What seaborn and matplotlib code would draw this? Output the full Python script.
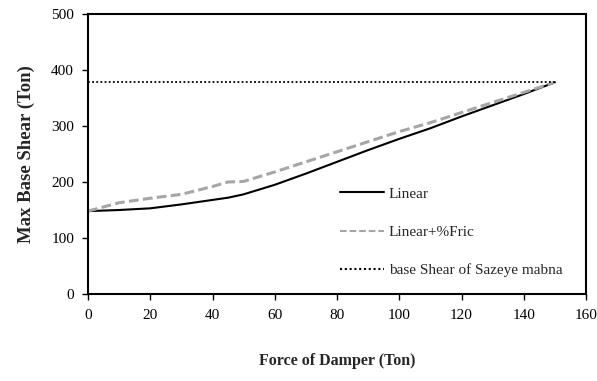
import numpy as np
import pandas as pd
import matplotlib
matplotlib.use('Agg')
import matplotlib.pyplot as plt
import seaborn as sns

# --- data ---
force = [0, 10, 20, 30, 40, 45, 50, 60, 70, 80, 90, 100, 110, 120, 130, 140, 150]
shear_linear = [148, 150, 153, 160, 168, 172, 178, 195, 215, 236, 257, 277, 296, 317, 337, 357, 378]
shear_fric = [148, 163, 171, 178, 192, 200, 201, 218, 236, 254, 272, 290, 306, 324, 342, 360, 378]
sazeye_force = [0, 150]
sazeye_shear = [378, 378]

labels = ['Linear', 'Linear+%Fric', 'base Shear of Sazeye mabna']

df = pd.concat([
    pd.DataFrame({'Force': force, 'Shear': shear_linear, 'Series': labels[0]}),
    pd.DataFrame({'Force': force, 'Shear': shear_fric, 'Series': labels[1]}),
    pd.DataFrame({'Force': sazeye_force, 'Shear': sazeye_shear, 'Series': labels[2]}),
], ignore_index=True)

sns.set_style("white")
plt.rcParams['font.family'] = ['Liberation Serif', 'DejaVu Serif']

fig = plt.figure(figsize=(5.97, 3.81), dpi=100)
ax = fig.add_axes([0.1474, 0.2283, 0.8342, 0.735])

sns.lineplot(data=df, x='Force', y='Shear', hue='Series', style='Series',
             palette={labels[0]: 'black', labels[1]: '#a6a6a6', labels[2]: 'black'},
             dashes={labels[0]: '', labels[1]: (3.2, 1.4), labels[2]: (1, 1.3)},
             linewidth=1.5, ax=ax, legend=True)

# thicker grey dashes, thinner dots as in the original
ax.lines[1].set_linewidth(2.2)
ax.lines[2].set_linewidth(1.3)

ax.set_xlim(0, 160)
ax.set_ylim(0, 500)
ax.set_xticks(np.arange(0, 161, 20))
ax.set_yticks(np.arange(0, 501, 100))
ax.tick_params(axis='both', direction='out', length=4, width=1, labelsize=11,
               bottom=True, left=True, colors='black')
ax.tick_params(axis='x', pad=7)
ax.tick_params(axis='y', pad=6)

for s in ax.spines.values():
    s.set_color('black')
    s.set_linewidth(1.5)

ax.set_xlabel('Force of Damper (Ton)', fontsize=11.5, fontweight='bold', labelpad=22)
ax.set_ylabel('Max Base Shear (Ton)', fontsize=13.5, fontweight='bold', labelpad=12)

handles, lbls = ax.get_legend_handles_labels()
ax.legend(handles, lbls, loc='center left', bbox_to_anchor=(0.506, 0.221),
          frameon=False, fontsize=11, handlelength=2.9, handletextpad=0.3,
          labelspacing=1.6, borderpad=0, borderaxespad=0)

plt.savefig('out.png', dpi=100)
